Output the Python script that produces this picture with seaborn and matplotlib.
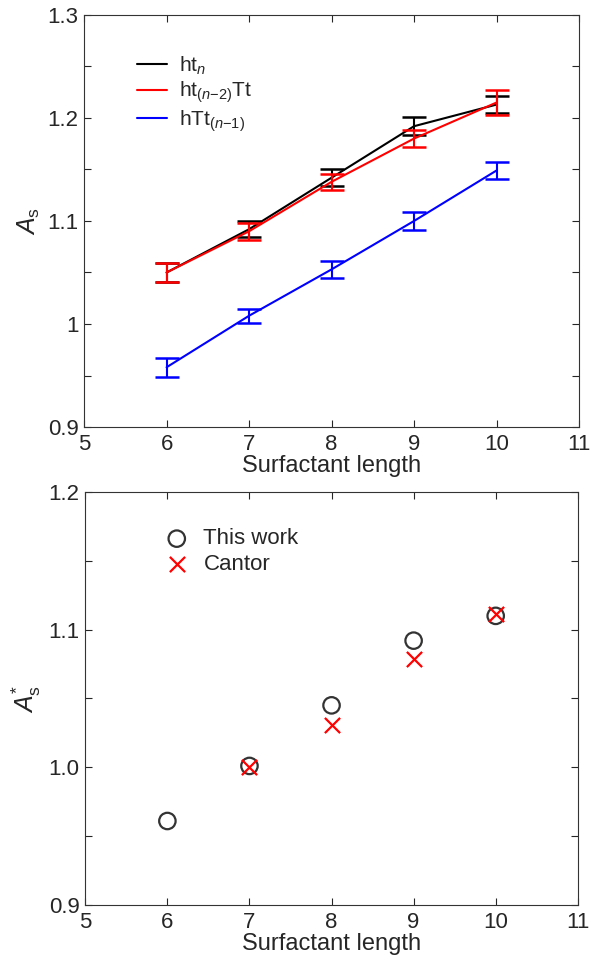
import numpy as np
import pandas as pd
import seaborn as sns
import matplotlib.pyplot as plt
from matplotlib.ticker import MultipleLocator, FormatStrFormatter

length = [6, 7, 8, 9, 10]

ht_n = [1.050, 1.092, 1.142, 1.192, 1.213]
ht_n_err = [0.009, 0.008, 0.008, 0.009, 0.008]
ht_n2_Tt = [1.050, 1.090, 1.138, 1.180, 1.215]
ht_n2_Tt_err = [0.009, 0.008, 0.008, 0.008, 0.012]
hTt_n1 = [0.958, 1.008, 1.053, 1.100, 1.149]
hTt_n1_err = [0.009, 0.007, 0.008, 0.009, 0.008]

this_work = [0.961, 1.001, 1.045, 1.092, 1.110]
cantor_len = [7, 8, 9, 10]
cantor = [1.000, 1.031, 1.079, 1.111]

sns.set_theme(style="ticks")
plt.rcParams["font.family"] = ["Liberation Sans", "DejaVu Sans"]
plt.rcParams["mathtext.fontset"] = "custom"
plt.rcParams["mathtext.rm"] = "Liberation Sans"
plt.rcParams["mathtext.it"] = "Liberation Sans:italic"

fig = plt.figure(figsize=(6.05, 9.65), dpi=100)
ax1 = fig.add_axes([0.139, 0.5575, 0.818, 0.427])
ax2 = fig.add_axes([0.141, 0.0622, 0.814, 0.428])

top = pd.DataFrame({
    "length": length * 3,
    "value": ht_n + ht_n2_Tt + hTt_n1,
    "err": ht_n_err + ht_n2_Tt_err + hTt_n1_err,
    "series": ["ht"] * 5 + ["htTt"] * 5 + ["hTt"] * 5,
})
labels = {"ht": r"ht$_{n}$", "htTt": r"ht$_{(n\mathrm{-2})}$Tt", "hTt": r"hTt$_{(n\mathrm{-1})}$"}
colors = {"ht": "black", "htTt": "red", "hTt": "blue"}

for key in ["ht", "htTt", "hTt"]:
    d = top[top["series"] == key]
    sns.lineplot(data=d, x="length", y="value", color=colors[key], lw=1.5,
                 label=labels[key], ax=ax1)
    ax1.errorbar(d["length"], d["value"], yerr=d["err"], fmt="none",
                 ecolor=colors[key], elinewidth=1.5, capsize=8.5, capthick=1.8)

ax1.set_xlim(5, 11)
ax1.set_ylim(0.9, 1.3)
ax1.xaxis.set_major_locator(MultipleLocator(1))
ax1.yaxis.set_major_locator(MultipleLocator(0.1))
ax1.yaxis.set_minor_locator(MultipleLocator(0.05))
ax1.yaxis.set_major_formatter(FormatStrFormatter("%g"))
ax1.set_xlabel("Surfactant length", fontsize=17, labelpad=0)
ax1.set_ylabel(r"$A_{\mathrm{s}}$", fontsize=18, labelpad=4)
ax1.legend(loc="upper left", bbox_to_anchor=(0.07, 0.95), frameon=False,
           fontsize=15, handlelength=1.4, handletextpad=0.6, labelspacing=0.15)

sns.scatterplot(x=length, y=this_work, marker="o", s=140, facecolors="none",
                edgecolor="#333333", linewidth=1.6, label="This work", ax=ax2)
sns.scatterplot(x=cantor_len, y=cantor, marker="x", s=120, color="red",
                linewidth=1.6, label="Cantor", ax=ax2)

ax2.set_xlim(5, 11)
ax2.set_ylim(0.9, 1.2)
ax2.xaxis.set_major_locator(MultipleLocator(1))
ax2.yaxis.set_major_locator(MultipleLocator(0.1))
ax2.yaxis.set_minor_locator(MultipleLocator(0.05))
ax2.yaxis.set_major_formatter(FormatStrFormatter("%.1f"))
ax2.set_xlabel("Surfactant length", fontsize=17, labelpad=0)
ax2.set_ylabel(r"$A^{*}_{\mathrm{s}}$", fontsize=18, labelpad=4)
ax2.legend(loc="upper left", bbox_to_anchor=(0.1, 0.96), frameon=False,
           fontsize=16, handletextpad=0.2, labelspacing=0.2)

for ax in (ax1, ax2):
    ax.tick_params(which="both", direction="in", top=True, right=True,
                   labelsize=16, length=5, width=0.8)
    ax.tick_params(axis="x", pad=5)
    ax.tick_params(axis="y", pad=4)
    for s in ax.spines.values():
        s.set_linewidth(0.8)
        s.set_color("#333333")

fig.savefig("out.png", dpi=100)
